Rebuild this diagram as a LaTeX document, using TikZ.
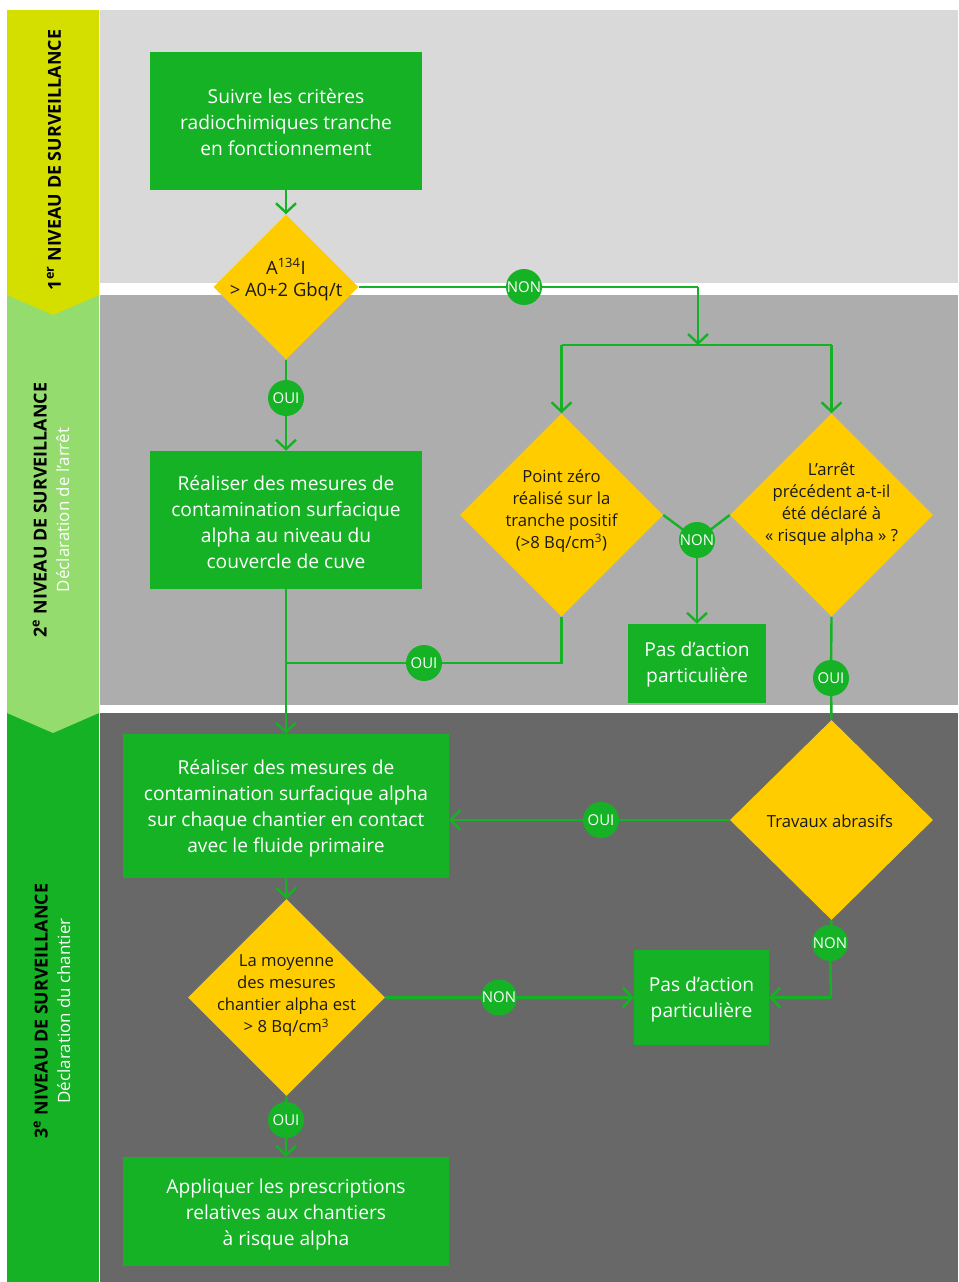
\documentclass[tikz,border=0pt]{standalone}
\usepackage{fontspec}
\setmainfont{Open Sans}
\usetikzlibrary{shapes.geometric,arrows.meta}
\definecolor{vgreen}{RGB}{20,178,36}
\definecolor{vyellow}{RGB}{255,204,0}
\definecolor{bandA}{RGB}{212,223,0}
\definecolor{bandB}{RGB}{148,220,110}
\definecolor{grayA}{RGB}{217,217,217}
\definecolor{grayB}{RGB}{173,173,173}
\definecolor{grayC}{RGB}{104,104,104}
\definecolor{ink}{RGB}{25,25,25}
\pgfdeclarelayer{bg}\pgfdeclarelayer{lines}\pgfsetlayers{bg,lines,main}
\tikzset{
  box/.style={rectangle, fill=vgreen, inner sep=0pt},
  boxtext/.style={text=white, align=center, font=\fontsize{14.4}{19.5}\selectfont},
  dia/.style={diamond, fill=vyellow, inner sep=0pt, aspect=1},
  diatext/.style={text=ink, align=center, font=\fontsize{12.5}{16.5}\selectfont},
  circ/.style={circle, fill=vgreen, inner sep=0pt, minimum size=27pt, text=white, font=\fontsize{11.2}{12}\selectfont},
  conn/.style={draw=vgreen, line width=1.8pt},
  arr/.style={conn, -{Straight Barb[length=7pt,width=15pt]}},
  bandlabel/.style={rotate=90, align=center, font=\fontsize{13.4}{17}\selectfont},
  subfont/.style={}
}
\newcommand\subtitlefont{\color{white}\fontsize{12.7}{15}\selectfont}
\begin{document}
\begin{tikzpicture}[x=0.75pt,y=-0.75pt]
\useasboundingbox (0,0) rectangle (958,1282);
% backgrounds
\begin{pgfonlayer}{bg}
\fill[grayA] (100,10) rectangle (958,283);
\fill[grayB] (100,295) rectangle (958,705);
\fill[grayC] (100,713) rectangle (958,1282);
\fill[vgreen] (7,713) rectangle (99,1282);
\fill[bandB] (7,295) -- (99,295) -- (99,713) -- (53,733) -- (7,713) -- cycle;
\fill[bandA] (7,10) -- (99,10) -- (99,295) -- (53,315) -- (7,295) -- cycle;
\end{pgfonlayer}
% band labels
\node[bandlabel] (lab1) at (54,160) {\bfseries 1\textsuperscript{er} NIVEAU DE SURVEILLANCE};
\node[bandlabel] (lab2) at (51,510) {{\bfseries 2\textsuperscript{e} NIVEAU DE SURVEILLANCE}\\{\subtitlefont Déclaration de l’arrêt}};
\node[bandlabel] (lab3) at (52,1011) {{\bfseries 3\textsuperscript{e} NIVEAU DE SURVEILLANCE}\\{\subtitlefont Déclaration du chantier}};
% boxes
\node[box, minimum width=204pt, minimum height=103.5pt] (b1) at (286,121) {};
\node[boxtext] at (286,122) {Suivre les critères\\radiochimiques tranche\\en fonctionnement};
\node[box, minimum width=204pt, minimum height=103.5pt] (b2) at (286,520) {};
\node[boxtext] at (286,522) {Réaliser des mesures de\\contamination surfacique\\alpha au niveau du\\couvercle de cuve};
\node[box, minimum width=103.5pt, minimum height=59.25pt] (b3) at (697,663.5) {};
\node[boxtext] at (697,665) {Pas d’action\\particulière};
\node[box, minimum width=244.5pt, minimum height=108pt] (b4) at (286,806) {};
\node[boxtext] at (286,808) {Réaliser des mesures de\\contamination surfacique alpha\\sur chaque chantier en contact\\avec le fluide primaire};
\node[box, minimum width=101.25pt, minimum height=71.25pt] (b5) at (701.5,997.5) {};
\node[boxtext] at (701.5,999) {Pas d’action\\particulière};
\node[box, minimum width=244.5pt, minimum height=81.75pt] (b6) at (286,1211.5) {};
\node[boxtext] at (286,1214) {Appliquer les prescriptions\\relatives aux chantiers\\à risque alpha};
% diamonds
\node[dia, minimum width=108.75pt, minimum height=108.75pt] (d1) at (286,287) {};
\node[diatext, font=\fontsize{13.8}{16.5}\selectfont] at (286,280) {A\textsuperscript{134}I\\> A0+2 Gbq/t};
\node[dia, minimum width=152.25pt, minimum height=152.25pt] (d2) at (561.5,515) {};
\node[diatext] at (561.5,511) {Point zéro\\réalisé sur la\\tranche positif\\(>8 Bq/cm\textsuperscript{3})};
\node[dia, minimum width=152.25pt, minimum height=152.25pt] (d3) at (831.5,515) {};
\node[diatext] at (831.5,504) {L’arrêt\\précédent a-t-il\\été déclaré à\\« risque alpha » ?};
\node[dia, minimum width=152.25pt, minimum height=150pt] (d4) at (831.5,820) {};
\node[diatext] at (830,821) {Travaux abrasifs};
\node[dia, minimum width=147.75pt, minimum height=147.75pt] (d5) at (286.5,997.5) {};
\node[diatext] at (286.5,996) {La moyenne\\des mesures\\chantier alpha est\\> 8 Bq/cm\textsuperscript{3}};
% circles
\node[circ] (nonA) at (524,287) {NON};
\node[circ] (ouiA) at (286,398) {OUI};
\node[circ] (nonB) at (697,540) {NON};
\node[circ] (ouiB) at (424,663) {OUI};
\node[circ] (ouiC) at (831,678) {OUI};
\node[circ] (ouiD) at (601,820) {OUI};
\node[circ] (nonC) at (830,943) {NON};
\node[circ] (nonD) at (499,997.5) {NON};
\node[circ] (ouiE) at (286,1120) {OUI};
% junction coordinates
\coordinate (jA) at (698,287);
\coordinate (jB) at (698,345);
\coordinate (jL) at (561.5,345);
\coordinate (jR) at (831.5,345);
\coordinate (jC) at (286,663);
\coordinate (jD) at (831,997.5);
% connectors
\begin{pgfonlayer}{lines}
\draw[arr] (b1.south) -- (d1.north);
\draw[conn] (d1.south) -- (ouiA.center);
\draw[arr] (ouiA.center) -- (b2.north);
\draw[conn] (d1.east) -- (nonA.center) -- (jA);
\draw[arr] (jA) -- (jB);
\draw[conn] (jL) -- (jR);
\draw[arr] (jL) -- (d2.north);
\draw[arr] (jR) -- (d3.north);
\draw[conn] (d2.east) -- (nonB.center);
\draw[conn] (d3.west) -- (nonB.center);
\draw[arr] (nonB.center) -- (b3.north);
\draw[conn] (d2.south) |- (ouiB.center) -- (jC);
\draw[arr] (b2.south) -- (b4.north);
\draw[conn] (d3.south) -- (ouiC.center) -- (d4.north);
\draw[arr] (d4.west) -- (ouiD.center) -- (b4.east |- ouiD);
\draw[conn] (d4.south) -- (nonC.center) -- (jD);
\draw[arr] (jD) -- (b5.east);
\draw[arr] (b4.south) -- (d5.north);
\draw[arr] (d5.east) -- (nonD.center) -- (b5.west);
\draw[arr] (d5.south) -- (ouiE.center) -- (b6.north);
\end{pgfonlayer}
\end{tikzpicture}
\end{document}
